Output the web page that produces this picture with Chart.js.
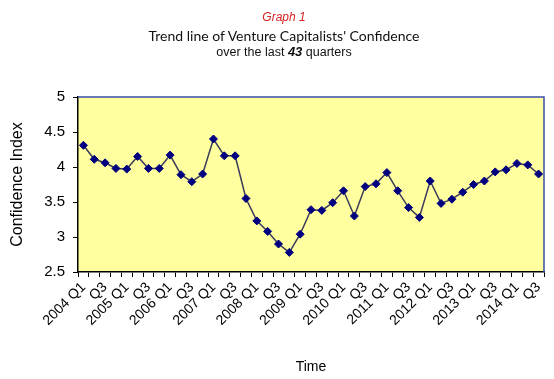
<!DOCTYPE html>
<html>
<head>
<meta charset="utf-8">
<script src="https://cdn.jsdelivr.net/npm/chart.js@4.4.1/dist/chart.umd.min.js"></script>
<style>
  html, body { margin: 0; padding: 0; background: #ffffff; }
  #wrap { position: relative; width: 554px; height: 379px; overflow: hidden; }
  #c { position: absolute; left: 0; top: 0; }
  .t { position: absolute; left: 0; width: 568px; text-align: center; white-space: nowrap; }
  #t1 { top: 10px; font: italic 12px "Liberation Sans", Arial, sans-serif; color: #d42020; }
  #t2 { top: 27px; font: 14px Lato, "Open Sans", sans-serif; color: #111; }
  #t3 { top: 44px; font: 12.5px "Liberation Sans", Arial, sans-serif; color: #111; }
  #t3 b { font-style: italic; font-size: 13px; }
</style>
</head>
<body>
<div id="wrap">
  <canvas id="c" width="554" height="379"></canvas>
  <div class="t" id="t1">Graph 1</div>
  <div class="t" id="t2">Trend line of Venture Capitalists' Confidence</div>
  <div class="t" id="t3">over the last <b>43</b> quarters</div>
</div>
<script>
const quarters = [
  "2004 Q1","2004 Q2","2004 Q3","2004 Q4",
  "2005 Q1","2005 Q2","2005 Q3","2005 Q4",
  "2006 Q1","2006 Q2","2006 Q3","2006 Q4",
  "2007 Q1","2007 Q2","2007 Q3","2007 Q4",
  "2008 Q1","2008 Q2","2008 Q3","2008 Q4",
  "2009 Q1","2009 Q2","2009 Q3","2009 Q4",
  "2010 Q1","2010 Q2","2010 Q3","2010 Q4",
  "2011 Q1","2011 Q2","2011 Q3","2011 Q4",
  "2012 Q1","2012 Q2","2012 Q3","2012 Q4",
  "2013 Q1","2013 Q2","2013 Q3","2013 Q4",
  "2014 Q1","2014 Q2","2014 Q3"
];
const tickLabels = [
  "2004 Q1","","Q3","",
  "2005 Q1","","Q3","",
  "2006 Q1","","Q3","",
  "2007 Q1","","Q3","",
  "2008 Q1","","Q3","",
  "2009 Q1","","Q3","",
  "2010 Q1","","Q3","",
  "2011 Q1","","Q3","",
  "2012 Q1","","Q3","",
  "2013 Q1","","Q3","",
  "2014 Q1","","Q3"
];
const confidence = [
  4.31, 4.11, 4.06, 3.98, 3.97, 4.15, 3.98, 3.98, 4.17, 3.89,
  3.79, 3.90, 4.40, 4.16, 4.16, 3.55, 3.23, 3.08, 2.90, 2.78,
  3.04, 3.39, 3.38, 3.49, 3.66, 3.30, 3.72, 3.76, 3.92, 3.66,
  3.42, 3.28, 3.80, 3.48, 3.54, 3.64, 3.75, 3.80, 3.93, 3.96,
  4.05, 4.03, 3.90
];
const yTicks = [2.5, 3, 3.5, 4, 4.5, 5];

const FONT = '"Liberation Sans", Arial, sans-serif';

const plotBg = {
  id: 'plotBg',
  beforeDraw(chart) {
    const {ctx, chartArea: a} = chart;
    ctx.save();
    ctx.fillStyle = '#FFFF9F';
    ctx.fillRect(a.left, a.top, a.right - a.left, a.bottom - a.top);
    ctx.restore();
  },
  afterDatasetsDraw(chart) {
    const {ctx, chartArea: a} = chart;
    ctx.save();
    ctx.strokeStyle = '#3a4ea8';
    ctx.lineWidth = 1.5;
    ctx.beginPath();
    ctx.moveTo(a.left, a.top);
    ctx.lineTo(a.right, a.top);
    ctx.lineTo(a.right, a.bottom);
    ctx.stroke();
    ctx.restore();
  }
};

new Chart(document.getElementById('c'), {
  type: 'line',
  data: {
    labels: quarters,
    datasets: [{
      data: confidence,
      borderColor: '#3a3a5a',
      borderWidth: 1.5,
      tension: 0,
      pointStyle: 'rectRot',
      pointRadius: 4,
      pointBackgroundColor: '#00007f',
      pointBorderColor: '#00007f',
      pointBorderWidth: 1
    }]
  },
  options: {
    responsive: false,
    animation: false,
    events: [],
    layout: { padding: { top: 97, right: 10, left: 0, bottom: 0 } },
    plugins: { legend: { display: false }, tooltip: { enabled: false } },
    scales: {
      x: {
        type: 'category',
        offset: true,
        afterFit(s) { s.height = 107; },
        border: { display: true, color: '#000', width: 1.5 },
        grid: {
          offset: true,
          drawOnChartArea: false,
          drawTicks: true,
          tickLength: 5,
          color: '#000',
          lineWidth: 1
        },
        ticks: {
          autoSkip: false,
          maxRotation: 45,
          minRotation: 45,
          padding: 2,
          color: '#000',
          font: { family: FONT, size: 14 },
          callback: (v, i) => tickLabels[i]
        },
        title: {
          display: true,
          text: 'Time',
          color: '#000',
          font: { family: FONT, size: 14 },
          padding: { top: 4, bottom: 3 }
        }
      },
      y: {
        min: 2.5,
        max: 5,
        afterFit(s) { s.width = 78; },
        afterBuildTicks(s) { s.ticks = yTicks.map(v => ({ value: v })); },
        border: { display: true, color: '#000', width: 1.5 },
        grid: {
          drawOnChartArea: false,
          drawTicks: true,
          tickLength: 5,
          color: '#000'
        },
        ticks: {
          padding: 8,
          color: '#000',
          font: { family: FONT, size: 15 },
          callback: v => String(v)
        },
        title: {
          display: true,
          text: 'Confidence Index',
          color: '#000',
          font: { family: FONT, size: 16 },
          padding: { top: 8, bottom: 0 }
        }
      }
    }
  },
  plugins: [plotBg]
});
</script>
</body>
</html>
